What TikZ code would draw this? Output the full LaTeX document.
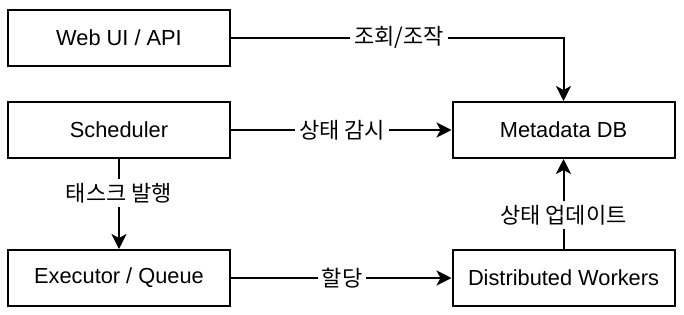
\documentclass[tikz,border=0pt]{standalone}
\usepackage{fontspec}
\setmainfont{Liberation Sans}
\newfontfamily\kr{Noto Sans CJK KR}
\usetikzlibrary{arrows.meta}
\begin{document}
\begin{tikzpicture}[x=1bp,y=-1bp,
  box/.style={draw=black, line width=2bp, minimum width=222bp, minimum height=56bp, inner sep=0pt,
    font=\fontsize{21.8bp}{26bp}\selectfont},
  lbl/.style={fill=white, inner sep=4bp, font=\kr\fontsize{22bp}{26bp}\selectfont},
  conn/.style={line width=2bp, -{Stealth[length=15bp, width=15bp, inset=4bp]}},
  plain/.style={line width=2bp}]
\useasboundingbox (0,0) rectangle (684,314);
\node[box] (web) at (119,37.5) {Web UI / API};
\node[box] (sched) at (119,130) {Scheduler};
\node[box] (exec) at (119,278) {Executor / Queue};
\node[box] (meta) at (563.5,130) {Metadata DB};
\node[box] (work) at (563.5,278) {Distributed Workers};
\coordinate (corner) at (563.5,37.5);
\draw[conn] (web.east) -- (corner) -- (meta.north);
\node[lbl] (l1) at (399,37.5) {조회/조작};
\draw[conn] (sched.east) -- (meta.west);
\node[lbl] (l2) at (342,130) {상태 감시};
\draw[conn] (sched.south) -- (exec.north);
\node[lbl] (l3) at (119,193) {태스크 발행};
\draw[conn] (exec.east) -- (work.west);
\node[lbl] (l4) at (342,278) {할당};
\draw[conn] (work.north) -- (meta.south);
\node[lbl] (l5) at (563.5,215) {상태 업데이트};
\end{tikzpicture}
\end{document}
